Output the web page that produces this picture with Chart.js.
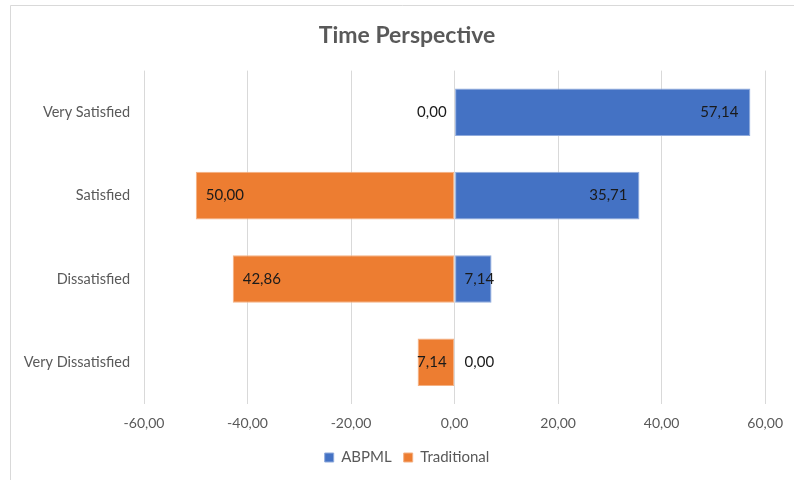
<!DOCTYPE html>
<html>
<head>
    <title>Time Perspective</title>
    <script src="https://cdn.jsdelivr.net/npm/chart.js"></script>
    <style>
        body { margin: 0; background: #fff; }
        #chart-container { width: 794px; height: 480px; }
    </style>
</head>
<body>
    <div id="chart-container">
        <canvas id="chart"></canvas>
    </div>

    <script>
    // data
    const categories = ['Very Satisfied', 'Satisfied', 'Dissatisfied', 'Very Dissatisfied'];
    const abpml = [57.14, 35.71, 7.14, 0.00];
    const traditional = [0.00, 50.00, 42.86, 7.14];
    const xTicks = [-60, -40, -20, 0, 20, 40, 60];

    const FONT = 'Lato, "Open Sans", sans-serif';

    function fmt(v) {
        return v.toFixed(2).replace('.', ',');
    }

    // Excel style chart border (top and left edges visible)
    const borderPlugin = {
        id: 'chartBorder',
        beforeDraw(chart) {
            const ctx = chart.ctx;
            ctx.save();
            ctx.strokeStyle = '#d9d9d9';
            ctx.lineWidth = 1;
            ctx.beginPath();
            ctx.moveTo(10.5, 480);
            ctx.lineTo(10.5, 5.5);
            ctx.lineTo(794, 5.5);
            ctx.stroke();
            ctx.restore();
        }
    };

    // labels at the inside end, or next to zero when they do not fit
    const labelPlugin = {
        id: 'barLabels',
        afterDatasetsDraw(chart) {
            const ctx = chart.ctx;
            const zero = chart.scales.x.getPixelForValue(0);
            ctx.save();
            ctx.font = '15px ' + FONT;
            ctx.fillStyle = '#1a1a1a';
            ctx.textBaseline = 'middle';
            chart.data.datasets.forEach((ds, i) => {
                chart.getDatasetMeta(i).data.forEach((bar, j) => {
                    const v = ds.data[j];
                    const txt = fmt(Math.abs(v));
                    const w = ctx.measureText(txt).width;
                    const end = chart.scales.x.getPixelForValue(v);
                    const len = Math.abs(end - zero);
                    if (i === 0) {
                        if (len > w + 24) {
                            ctx.textAlign = 'right';
                            ctx.fillText(txt, end - 12, bar.y);
                        } else {
                            ctx.textAlign = 'left';
                            ctx.fillText(txt, zero + 10, bar.y);
                        }
                    } else {
                        if (len > w + 20) {
                            ctx.textAlign = 'left';
                            ctx.fillText(txt, end + 10, bar.y);
                        } else {
                            ctx.textAlign = 'right';
                            ctx.fillText(txt, zero - 8, bar.y);
                        }
                    }
                });
            });
            ctx.restore();
        }
    };

    const ctx = document.getElementById('chart').getContext('2d');
    new Chart(ctx, {
        type: 'bar',
        data: {
            labels: categories,
            datasets: [{
                label: 'ABPML',
                data: abpml,
                backgroundColor: '#4472c4',
                borderColor: '#8faadc',
                borderWidth: 1,
                borderSkipped: false
            }, {
                label: 'Traditional',
                data: traditional.map(v => -v),
                backgroundColor: '#ed7d31',
                borderColor: '#f4b183',
                borderWidth: 1,
                borderSkipped: false
            }]
        },
        options: {
            indexAxis: 'y',
            responsive: true,
            maintainAspectRatio: false,
            animation: false,
            barPercentage: 0.57,
            categoryPercentage: 1,
            layout: { padding: { top: 0, right: 26, bottom: 5, left: 46 } },
            plugins: {
                title: {
                    display: true,
                    text: 'Time Perspective',
                    color: '#595959',
                    font: { family: FONT, size: 23, weight: 'bold' },
                    padding: { top: 22, bottom: 21 }
                },
                legend: {
                    position: 'bottom',
                    labels: {
                        boxWidth: 9,
                        boxHeight: 9,
                        color: '#595959',
                        font: { family: FONT, size: 15 },
                        padding: 12
                    }
                },
                tooltip: { enabled: false }
            },
            scales: {
                x: {
                    stacked: true,
                    min: -60,
                    max: 60,
                    afterBuildTicks: scale => {
                        scale.ticks = xTicks.map(v => ({ value: v }));
                    },
                    afterFit: scale => { scale.height = 34; },
                    grid: { color: '#d9d9d9', drawTicks: false },
                    border: { display: false },
                    ticks: {
                        padding: 11,
                        color: '#595959',
                        font: { family: FONT, size: 14 },
                        callback: v => fmt(v)
                    }
                },
                y: {
                    stacked: true,
                    afterFit: scale => { scale.width = 98; },
                    // labels reach into the left padding, so do not clip them to the axis box
                    afterUpdate: scale => { scale._computeLabelArea = () => undefined; },
                    grid: { display: false, drawTicks: false },
                    border: { display: false },
                    ticks: {
                        padding: 14,
                        color: '#595959',
                        font: { family: FONT, size: 14.5 }
                    }
                }
            }
        },
        plugins: [borderPlugin, labelPlugin]
    });
    </script>
</body>
</html>
